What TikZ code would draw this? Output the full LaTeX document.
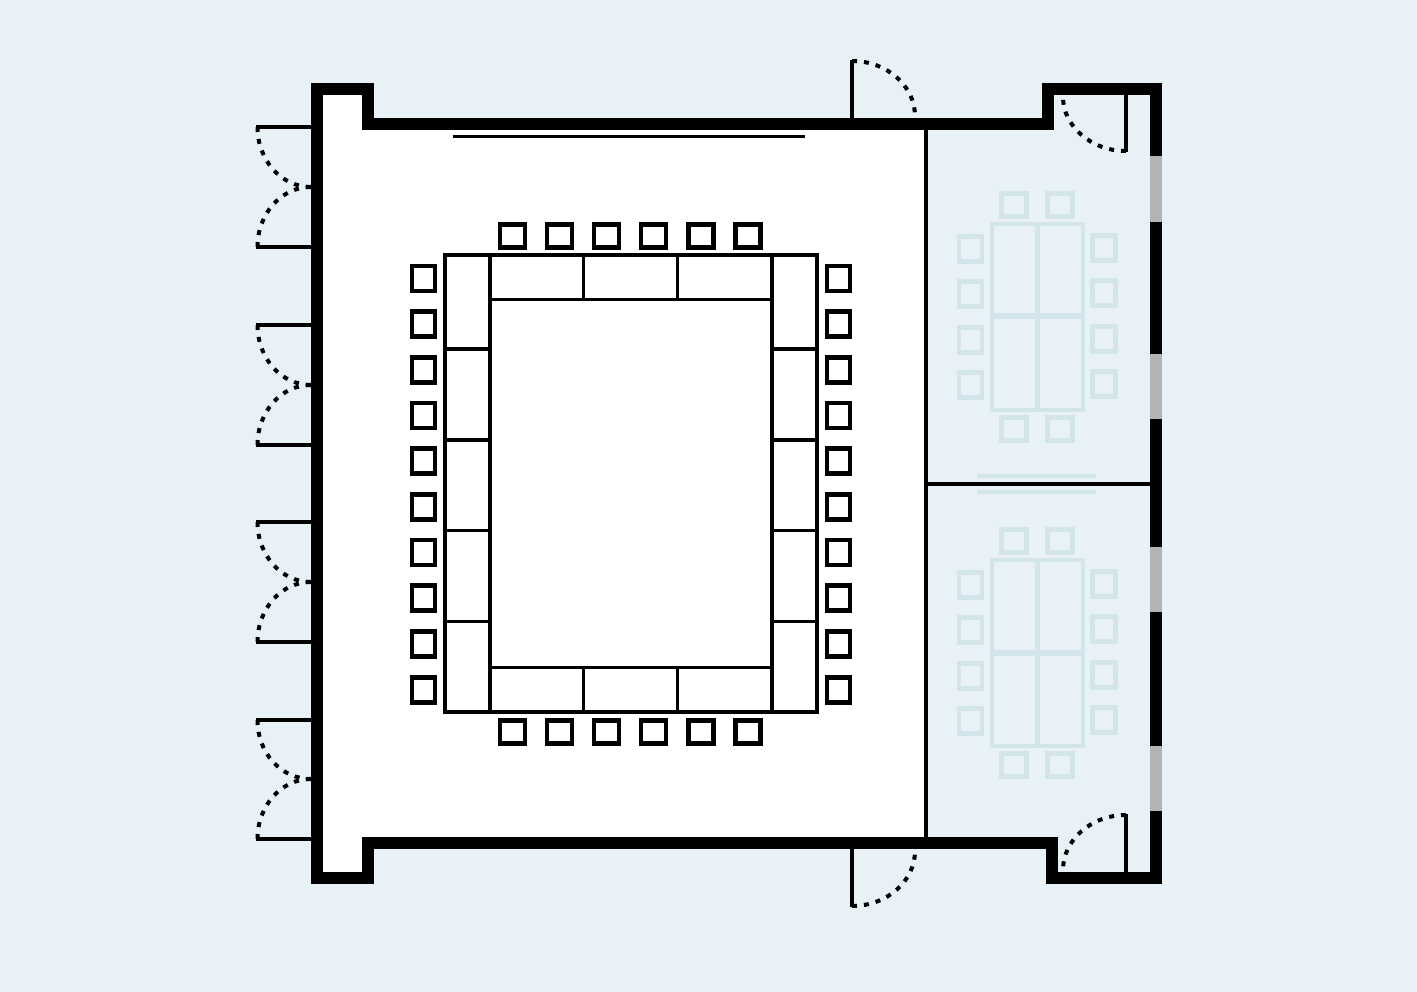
\documentclass[tikz,border=0pt]{standalone}
\usetikzlibrary{positioning}
\definecolor{sitebg}{HTML}{E8F1F6}
\definecolor{ghost}{HTML}{D2E5EB}
\definecolor{glass}{HTML}{B3B3B3}
\begin{document}
\begin{tikzpicture}[
		x=1pt,y=-1pt,
		wall/.style={draw=black, line width=12.2pt, line join=miter},
		partition/.style={draw=black, line width=3.6pt},
		leaf/.style={draw=black, line width=3.6pt},
		swing/.style={draw=black, line width=4pt, dash pattern=on 5pt off 7pt},
		tableline/.style={draw=black, line width=3.9pt},
		ghostline/.style={draw=ghost, line width=4.4pt},
		chairh/.style={draw=black, line width=4.2pt, inner sep=0pt, minimum width=25pt, minimum height=23pt},
		chairv/.style={draw=black, line width=4.2pt, inner sep=0pt, minimum width=23pt, minimum height=25pt},
		ghosth/.style={draw=ghost, line width=4.4pt, inner sep=0pt, minimum width=25pt, minimum height=23pt},
		ghostv/.style={draw=ghost, line width=4.4pt, inner sep=0pt, minimum width=23pt, minimum height=25pt}
		]
		
		% --- Ground ---
		\path[use as bounding box, fill=sitebg] (0,0) rectangle (1417,992);
		\fill[white] (317,89) -- (368,89) -- (368,124) -- (926,124) -- (926,843) -- (368,843) -- (368,878) -- (317,878) -- cycle;
		
		% --- Small rooms (faded furniture) ---
		\foreach \dy in {0,336} {
			\draw[ghostline] (992,224+\dy) rectangle (1083,410+\dy);
			\draw[ghostline] (1037.5,224+\dy) -- (1037.5,410+\dy);
			\draw[ghostline, line width=6pt] (992,316.5+\dy) -- (1083,316.5+\dy);
			\foreach \cx in {1014,1060} {
				\node[ghosth] (gtop\cx\dy) at (\cx,205+\dy) {};
				\node[ghosth] (gbot\cx\dy) at (\cx,429+\dy) {};
			}
			\foreach \cy in {249,294,340,385} {
				\node[ghostv] (gleft\cy\dy) at (970.5,\cy+\dy) {};
				\node[ghostv] (gright\cy\dy) at (1104,\cy+\dy-1) {};
			}
		}
		\draw[ghostline] (977,476) -- (1096,476);
		\draw[ghostline] (977,492) -- (1096,492);
		
		% --- Partitions ---
		\draw[partition] (926,124) -- (926,843);
		\draw[partition] (926,484) -- (1150,484);
		
		% --- Walls ---
		\draw[wall] (317,89) -- (368,89) -- (368,124) -- (1047.7,124) -- (1047.7,89) -- (1156,89) -- (1156,878) -- (1052,878) -- (1052,843.3) -- (368,843.3) -- (368,878) -- (317,878) -- cycle;
		
		% --- Windows ---
		\foreach \ya/\yb in {156/221.7,354/419.3,547/612,746/811} {
			\fill[glass] (1150,\ya) rectangle (1162.2,\yb);
		}
		
		% --- Screen ---
		\draw[leaf, line width=3.2pt] (453,136.5) -- (805,136.5);
		
		% --- Conference table ---
		\draw[tableline] (445,255) rectangle (817,712);
		\draw[tableline] (490,299.5) rectangle (772,667.5);
		\foreach \ty in {349,440,530.5,621.5} {
			\draw[tableline, line width=3.4pt] (445,\ty) -- (490,\ty);
			\draw[tableline, line width=3.4pt] (772,\ty) -- (817,\ty);
		}
		\foreach \tx in {583.5,677.5} {
			\draw[tableline, line width=3.4pt] (\tx,255) -- (\tx,299);
			\draw[tableline, line width=3.4pt] (\tx,667) -- (\tx,712);
		}
		\draw[tableline] (490,255) -- (490,299);
		\draw[tableline] (772,255) -- (772,299);
		\draw[tableline] (490,667) -- (490,712);
		\draw[tableline] (772,667) -- (772,712);
		
		% --- Chairs ---
		\foreach \cx in {512.5,559.5,606.5,653.5,701,748} {
			\node[chairh] (top\cx) at (\cx,236) {};
			\node[chairh] (bot\cx) at (\cx,732) {};
		}
		\foreach \cy in {278.5,324,370,415.5,461,507,552.5,598,644,690} {
			\node[chairv] (left\cy) at (423.5,\cy) {};
			\node[chairv] (right\cy) at (838.5,\cy) {};
		}
		
		% --- Doors, left side ---
		\foreach \ya/\ym/\yb in {127/187/247,325/385/445,522/582/642,720/779/839} {
			\draw[leaf] (311,\ya) -- (256,\ya);
			\draw[leaf] (311,\yb) -- (256,\yb);
			\draw[swing] (257.5,\ya) .. controls (257.5,\ya+33) and (281,\ym) .. (311,\ym);
			\draw[swing] (257.5,\yb) .. controls (257.5,\yb-33) and (281,\ym) .. (311,\ym);
		}
		
		% --- Doors, top and bottom ---
		\draw[leaf] (852,118) -- (852,60);
		\draw[swing] (852,61) .. controls (887,61) and (915,86) .. (915,116);
		\draw[leaf] (852,849) -- (852,907);
		\draw[swing] (852,906) .. controls (887,906) and (915,881) .. (915,851);
		\draw[leaf] (1126,95) -- (1126,152);
		\draw[swing] (1126,151) .. controls (1091,151) and (1063,126) .. (1063,97);
		\draw[leaf] (1126,872) -- (1126,814);
		\draw[swing] (1126,815) .. controls (1091,815) and (1063,840) .. (1063,870);
		
	\end{tikzpicture}
\end{document}
